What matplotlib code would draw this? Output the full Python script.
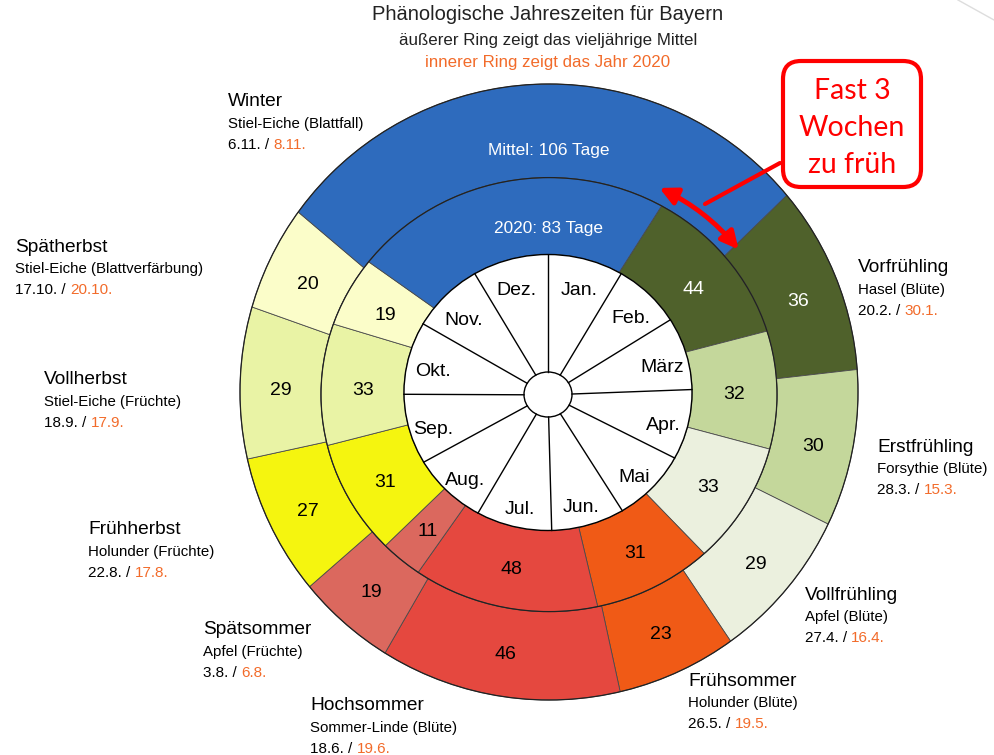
import numpy as np
import matplotlib.pyplot as plt
from matplotlib.patches import Polygon, Ellipse, FancyBboxPatch, FancyArrowPatch

plt.rcParams['font.family'] = ['Liberation Sans', 'DejaVu Sans']

# --- data ---
seasons = ['Vorfrühling', 'Erstfrühling', 'Vollfrühling', 'Frühsommer', 'Hochsommer',
           'Spätsommer', 'Frühherbst', 'Vollherbst', 'Spätherbst', 'Winter']
plants = ['Hasel (Blüte)', 'Forsythie (Blüte)', 'Apfel (Blüte)', 'Holunder (Blüte)',
          'Sommer-Linde (Blüte)', 'Apfel (Früchte)', 'Holunder (Früchte)',
          'Stiel-Eiche (Früchte)', 'Stiel-Eiche (Blattverfärbung)', 'Stiel-Eiche (Blattfall)']
start_mean = ['20.2.', '28.3.', '27.4.', '26.5.', '18.6.', '3.8.', '22.8.', '18.9.', '17.10.', '6.11.']
start_2020 = ['30.1.', '15.3.', '16.4.', '19.5.', '19.6.', '6.8.', '17.8.', '17.9.', '20.10.', '8.11.']
days_mean = [36, 30, 29, 23, 46, 19, 27, 29, 20, 106]
days_2020 = [44, 32, 33, 31, 48, 11, 31, 33, 19, 83]
months = ['Jan.', 'Feb.', 'März', 'Apr.', 'Mai', 'Jun.', 'Jul.', 'Aug.', 'Sep.', 'Okt.', 'Nov.', 'Dez.']
month_days = [31, 28, 31, 30, 31, 30, 31, 31, 30, 31, 30, 31]

colors = ['#4f612b', '#c4d79b', '#ebf0de', '#f05a16', '#e5483f',
          '#db685e', '#f5f50f', '#e9f3a5', '#fbfdc9', '#2e6bbd']
light_text = ['Vorfrühling', 'Winter']
orange = '#f26b2a'

# label positions (image pixels, top-left origin)
label_pos = {'Vorfrühling': (858, 268), 'Erstfrühling': (877, 447), 'Vollfrühling': (805, 595),
             'Frühsommer': (688, 681), 'Hochsommer': (310, 706), 'Spätsommer': (203, 630),
             'Frühherbst': (88, 530), 'Vollherbst': (44, 380), 'Spätherbst': (15, 247),
             'Winter': (228, 102)}

W, H = 994, 755
# ring outlines as (centre x, centre y, half width, half height) in image pixels
ring_out = (549, 392, 309, 308)
ring_mid = (549, 394.6, 228, 217)
ring_mon = (548, 392.5, 144, 138)
ring_ctr = (548, 394.5, 24, 22.5)


def doy(s):
    d, m = [int(v) for v in s.strip('.').split('.')]
    return sum(month_days[:m - 1]) + d


def pt(ring, day, grow=0):
    # point on a ring outline, clockwise from top, in data coords (y up)
    x0, y0, a, b = ring
    t = np.radians(np.asarray(day) * 360 / 365)
    return x0 + (a + grow) * np.sin(t), H - (y0 - (b + grow) * np.cos(t))


def mid(r0, r1, day):
    x0, y0 = pt(r0, day)
    x1, y1 = pt(r1, day)
    return (x0 + x1) / 2, (y0 + y1) / 2


fig = plt.figure(figsize=(W / 100, H / 100), dpi=100)
ax = fig.add_axes([0, 0, 1, 1])
ax.set_xlim(0, W)
ax.set_ylim(0, H)
ax.axis('off')

# season rings
for starts, days, inner, outer in [(start_mean, days_mean, ring_mid, ring_out),
                                   (start_2020, days_2020, ring_mon, ring_mid)]:
    for name, s, n, c in zip(seasons, starts, days, colors):
        d0 = doy(s)
        d1 = d0 + n
        dd = np.linspace(d0, d1, 120)
        xo, yo = pt(outer, dd)
        xi, yi = pt(inner, dd[::-1])
        ax.add_patch(Polygon(np.column_stack([np.r_[xo, xi], np.r_[yo, yi]]),
                             closed=True, facecolor=c, edgecolor='#4a4a4a', lw=0.6))
        if name != 'Winter':
            x, y = mid(inner, outer, (d0 + d1) / 2)
            s_up = np.cos(np.radians((d0 + d1) / 2 * 360 / 365))
            ax.text(x, y - 5 - 3 * s_up, str(n), ha='center', va='center', fontsize=14,
                    color='white' if name in light_text else 'black')

ax.text(549, H - 150, f'Mittel: {days_mean[-1]} Tage', ha='center', va='center',
        fontsize=12.4, color='white')
ax.text(549, H - 229, f'2020: {days_2020[-1]} Tage', ha='center', va='center',
        fontsize=12.4, color='white')

# month ring
def ell(ring, **kw):
    x0, y0, a, b = ring
    return Ellipse((x0, H - y0), 2 * a, 2 * b, **kw)


ax.add_patch(ell(ring_mon, facecolor='white', edgecolor='black', lw=1))
bounds = np.cumsum([0] + month_days)
for b in bounds[:-1]:
    x0, y0 = pt(ring_ctr, b)
    x1, y1 = pt(ring_mon, b)
    ax.plot([x0, x1], [y0, y1], color='black', lw=1)
for m, b0, b1 in zip(months, bounds[:-1], bounds[1:]):
    x, y = pt(ring_mon, (b0 + b1) / 2, grow=-25)
    ax.text(x, y - 7, m, ha='center', va='center', fontsize=14)
ax.add_patch(ell(ring_ctr, facecolor='white', edgecolor='black', lw=1))

for r in (ring_out, ring_mid):
    ax.add_patch(ell(r, fill=False, edgecolor='#222222', lw=0.9))

# season labels
for name, plant, s0, s1 in zip(seasons, plants, start_mean, start_2020):
    x, y = label_pos[name]
    ax.text(x, H - y, name, ha='left', va='center', fontsize=13.8)
    ax.text(x, H - y - 22, plant, ha='left', va='center', fontsize=10.8)
    t = ax.text(x, H - y - 43, f'{s0} / ', ha='left', va='center', fontsize=11)
    ax.annotate(s1, xycoords=t, xy=(1, 0), va='bottom', ha='left',
                fontsize=11, color=orange)

# titles
ax.text(548, H - 15, 'Phänologische Jahreszeiten für Bayern', ha='center', va='center',
        fontsize=14.5, color='#222222')
ax.text(548, H - 40, 'äußerer Ring zeigt das vieljährige Mittel', ha='center',
        va='center', fontsize=12.2, color='#222222')
ax.text(548, H - 63, 'innerer Ring zeigt das Jahr 2020', ha='center', va='center',
        fontsize=12.2, color=orange)

# callout
ax.plot([780, 705], [H - 163, H - 204], color='red', lw=3, solid_capstyle='round')
ax.add_patch(FancyBboxPatch((783, H - 187), 138, 126,
                            boxstyle='round,pad=0,rounding_size=18',
                            facecolor='white', edgecolor='red', lw=3))
for i, line in enumerate(['Fast 3', 'Wochen', 'zu früh']):
    ax.text(852, H - 91 - 37 * i, line, ha='center', va='center', fontsize=20.5,
            color='red', family=['Lato', 'DejaVu Sans'])

p0 = pt(ring_mid, doy(start_2020[0]) - 2.6, grow=15)
p1 = pt(ring_mid, doy(start_mean[0]) + 1, grow=15)
ax.add_patch(FancyArrowPatch(p0, p1, connectionstyle='arc3,rad=-0.11', arrowstyle='<|-|>',
                             mutation_scale=26, lw=3.5, color='red', shrinkA=0, shrinkB=0))

ax.plot([958, 994], [H, H - 20], color='#dddddd', lw=1)

fig.savefig('out.png', dpi=100)
